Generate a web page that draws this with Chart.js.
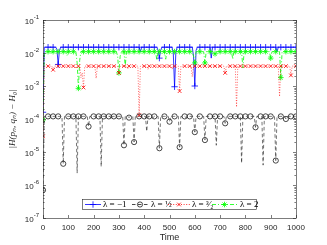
<!DOCTYPE html>
<html><head><meta charset="utf-8">
<script src="https://cdn.jsdelivr.net/npm/chart.js@4.4.0/dist/chart.umd.min.js"></script>
<style>html,body{margin:0;padding:0;background:#fff;}#wrap{width:327px;height:245px;position:relative;}</style>
</head><body><div id="wrap"><canvas id="c" width="327" height="245"></canvas></div>
<script>
const seriesLabels = ['λ = −1', 'λ = ½', 'λ = ³⁄₂', 'λ = 2'];
const xTickValues = [0, 100, 200, 300, 400, 500, 600, 700, 800, 900, 1000];
const yTickValues = [1e-7, 1e-6, 1e-5, 1e-4, 1e-3, 1e-2, 1e-1];
const yTickBase = '10';
const yTickExponents = ['-7', '-6', '-5', '-4', '-3', '-2', '-1'];
const timeStep = 5;

const lambdaMinus1 = [
1.6e-4,.015,.015,.015,.015,.015,.015,.015,.015,.015,
.015,.013,.0045,.012,.015,.015,.015,.015,.015,.015,
.015,.015,.015,.015,.015,.015,.015,.015,.015,.015,
.015,.015,.015,.015,.015,.015,.015,.015,.015,.015,
.015,.015,.015,.015,.015,.015,.015,.015,.015,.015,
.015,.015,.015,.015,.015,.015,.015,.015,.015,.015,
.015,.015,.015,.015,.015,.015,.015,.015,.015,.015,
.015,.015,.015,.015,.015,.015,.015,.011,.015,.015,
.015,.015,.015,.015,.015,.015,.015,.015,.015,.015,
.015,.012,.007,.012,.015,.015,.015,.015,.015,.015,
.015,.015,.015,.01,.00095,.01,.015,.015,.015,.015,
.015,.015,.015,.015,.015,.015,.015,.015,.015,.008,
.001,.012,.015,.015,.015,.015,.015,.015,.015,.015,
.015,.015,.015,.007,.015,.015,.015,.015,.015,.015,
.015,.015,.015,.015,.015,.015,.015,.015,.015,.015,
.015,.015,.015,.015,.015,.015,.015,.015,.015,.015,
.015,.015,.015,.015,.015,.015,.015,.015,.015,.015,
.015,.015,.015,.015,.015,.015,.015,.015,.015,.015,
.015,.015,.015,.015,.015,.011,.015,.015,.015,.015,
.015,.015,.015,.015,.015,.015,.015,.015,.015,.015,
.015];

const lambdaHalf = [
7e-7,1.2e-4,1.2e-4,1.1e-4,1.2e-4,1.2e-4,1.3e-4,1.2e-4,1.2e-4,1.2e-4,
1.2e-4,1.1e-4,1.2e-4,1.2e-4,1.2e-4,1.2e-4,4.4e-6,1.2e-4,1.2e-4,1.2e-4,
1.2e-4,1.2e-4,1.2e-4,1.1e-4,1.2e-4,1.2e-4,1.2e-4,2.3e-6,1.2e-4,1.2e-4,
1.2e-4,1.2e-4,1.2e-4,1.2e-4,1.2e-4,1.2e-4,5.9e-5,1.2e-4,1.2e-4,1.2e-4,
1.2e-4,1.2e-4,1.1e-4,1.2e-4,1.2e-4,1.2e-4,3.6e-6,1.2e-4,1.2e-4,1.2e-4,
1.2e-4,1.2e-4,1.2e-4,1.2e-4,1.0e-4,1.2e-4,1.2e-4,1.2e-4,1.2e-4,1.2e-4,
1.2e-4,1.2e-4,1.2e-4,1.2e-4,1.6e-5,1.2e-4,1.2e-4,1.2e-4,1.1e-4,1.2e-4,
1.2e-4,1.2e-4,2.0e-5,1.2e-4,1.2e-4,1.2e-4,1.2e-4,1.2e-4,1.2e-4,1.2e-4,
1.2e-4,1.2e-4,4.2e-5,1.2e-4,1.2e-4,1.2e-4,1.2e-4,1.1e-4,1.2e-4,1.2e-4,
1.2e-4,1.2e-4,1.3e-5,1.2e-4,1.2e-4,1.2e-4,1.2e-4,1.2e-4,1.2e-4,1.2e-4,
8.3e-5,1.2e-4,1.2e-4,1.2e-4,1.2e-4,1.2e-4,1.2e-4,1.2e-4,1.4e-5,1.2e-4,
1.2e-4,1.2e-4,1.2e-4,1.1e-4,1.2e-4,1.2e-4,1.2e-4,1.2e-4,1.2e-4,1.2e-4,
4.0e-5,1.2e-4,1.2e-4,1.2e-4,1.2e-4,1.2e-4,1.2e-4,1.2e-4,2.3e-5,1.2e-4,
1.2e-4,1.2e-4,1.2e-4,1.2e-4,1.2e-4,1.2e-4,1.2e-4,1.6e-5,1.2e-4,1.2e-4,
1.2e-4,1.2e-4,1.2e-4,1.2e-4,7.4e-5,1.2e-4,1.2e-4,1.2e-4,1.2e-4,1.2e-4,
1.2e-4,1.2e-4,1.2e-4,1.2e-4,1.2e-4,1.2e-4,1.2e-4,4.6e-6,1.2e-4,1.2e-4,
1.2e-4,1.2e-4,1.1e-4,1.2e-4,1.2e-4,1.2e-4,1.2e-4,1.2e-4,5.6e-5,1.2e-4,
1.2e-4,1.2e-4,1.2e-4,1.2e-4,4.0e-6,1.2e-4,1.2e-4,1.2e-4,1.2e-4,1.2e-4,
1.2e-4,1.2e-4,1.2e-4,1.2e-4,5.5e-6,1.2e-4,1.2e-4,1.2e-4,1.2e-4,1.2e-4,
1.2e-4,1.2e-4,1.0e-4,1.2e-4,1.2e-4,1.2e-4,1.2e-4,1.1e-4,1.2e-4,1.2e-4,
1.2e-4];

const lambdaThreeHalves = [
3e-5,.004,.004,.004,.004,.004,.004,.004,.0031,.004,
.004,.004,.004,.004,.004,.004,.004,.004,.004,.004,
.004,.004,.004,.004,.004,.004,.0034,.004,.004,.004,
.0018,.0025,.0009,.004,.004,.004,.004,.004,.004,.004,
.004,.004,.0017,.004,.004,.004,.004,.004,.004,.004,
.004,.004,.004,.004,.004,.004,.004,.004,.004,.004,
.0025,.004,.004,.004,.004,.004,.004,.0033,.004,.004,
.004,.004,.004,.004,.004,.004,.00013,.004,.004,.004,
.004,.004,.004,.0032,.004,.004,.004,.004,.004,.004,
.004,.004,.004,.004,.004,.004,.004,.004,.004,.004,
.004,.004,.0032,.004,.004,.004,.004,.004,.0007,.004,
.004,.004,.004,.004,.004,.004,.004,.004,.0019,.004,
.004,.004,.004,.004,.004,.004,.004,.004,.004,.004,
.004,.004,.004,.004,.004,.004,.004,.004,.004,.004,
.004,.004,.004,.004,.0025,.004,.004,.004,.004,.004,
.004,.004,.004,.00023,.004,.004,.004,.004,.004,.004,
.004,.004,.004,.004,.004,.004,.004,.004,.004,.004,
.004,.004,.004,.004,.004,.004,.004,.004,.004,.004,
.004,.004,.004,.004,.004,.004,.004,.00048,.004,.004,
.004,.004,.004,.004,.004,.004,.0021,.004,.004,.004,
.004];

const lambdaTwo = [
9.3e-5,.011,.011,.011,.011,.011,.011,.0095,.011,.011,
.011,.011,.011,.011,.011,.011,.011,.011,.011,.0085,
.011,.011,.011,.011,.011,.011,.011,.005,.00085,.006,
.011,.011,.011,.011,.011,.011,.011,.011,.011,.011,
.011,.011,.011,.011,.011,.011,.011,.011,.011,.011,
.011,.011,.011,.011,.011,.011,.011,.011,.011,.008,
.0025,.008,.011,.011,.011,.004,.011,.011,.011,.011,
.011,.011,.011,.011,.011,.011,.011,.011,.011,.011,
.011,.011,.011,.011,.011,.011,.011,.011,.011,.011,
.006,.011,.011,.011,.011,.011,.011,.0065,.011,.011,
.011,.011,.011,.011,.011,.011,.011,.011,.011,.011,
.011,.011,.011,.011,.011,.011,.011,.011,.011,.008,
.005,.011,.011,.011,.011,.011,.011,.011,.005,.011,
.011,.011,.011,.011,.011,.011,.0095,.011,.011,.011,
.011,.011,.011,.011,.011,.011,.011,.011,.011,.011,
.0065,.011,.011,.011,.011,.011,.011,.011,.0035,.011,
.011,.011,.011,.011,.011,.011,.011,.011,.011,.011,
.011,.011,.011,.011,.011,.011,.011,.011,.011,.011,
.007,.011,.011,.011,.011,.011,.011,.011,.0018,.011,
.011,.011,.011,.011,.011,.011,.011,.011,.011,.011,
.011];

const times = lambdaMinus1.map((_, i) => i * timeStep);
const toPoints = arr => arr.map((v, i) => ({x: times[i], y: v}));
const markerEvery = 4;
const mk = r => (c => (c.dataIndex % markerEvery === 0 ? r : 0));

const seriesStyles = [
  {color:'#0000ff', dash:[], width:0.8, style:'cross', r:3.2, fill:'rgba(0,0,0,0)'},
  {color:'#1a1a1a', dash:[3.5,2.5], width:0.6, style:'circle', r:2.6, fill:'rgba(0,0,0,0)'},
  {color:'#ff0000', dash:[1,1.6], width:0.6, style:'crossRot', r:2.6, fill:'rgba(0,0,0,0)'},
  {color:'#00ff00', dash:[4,2,1,2], width:0.8, style:'star', r:2.8, fill:'#00ff00'}
];
const seriesData = [lambdaMinus1, lambdaHalf, lambdaThreeHalves, lambdaTwo];

const datasets = seriesData.map((d, k) => ({
  label: seriesLabels[k],
  data: toPoints(d),
  borderColor: seriesStyles[k].color,
  backgroundColor: seriesStyles[k].fill,
  borderWidth: seriesStyles[k].width,
  borderDash: seriesStyles[k].dash,
  pointStyle: seriesStyles[k].style,
  pointRadius: mk(seriesStyles[k].r),
  pointBorderWidth: 0.8,
  pointBorderColor: seriesStyles[k].color,
  pointBackgroundColor: seriesStyles[k].fill,
  pointHoverRadius: 0,
  tension: 0,
  fill: false
}));
const ordered = [datasets[1], datasets[2], datasets[3], datasets[0]];

const frame = {
  id: 'frame',
  afterDatasetsDraw(chart) {
    const {ctx, chartArea: a, scales} = chart;
    ctx.save();
    ctx.strokeStyle = '#262626';
    ctx.lineWidth = 0.6;
    ctx.setLineDash([]);
    ctx.strokeRect(a.left + 0.5, a.top + 0.5, a.right - a.left, a.bottom - a.top);
    ctx.beginPath();
    xTickValues.forEach(v => {
      const x = Math.round(scales.x.getPixelForValue(v)) + 0.5;
      ctx.moveTo(x, a.bottom); ctx.lineTo(x, a.bottom - 3);
      ctx.moveTo(x, a.top); ctx.lineTo(x, a.top + 3);
    });
    yTickValues.forEach((v, i) => {
      const y = Math.round(scales.y.getPixelForValue(v)) + 0.5;
      ctx.moveTo(a.left, y); ctx.lineTo(a.left + 3, y);
      ctx.moveTo(a.right, y); ctx.lineTo(a.right - 3, y);
      if (i < yTickValues.length - 1) {
        for (let m = 2; m <= 9; m++) {
          const ym = Math.round(scales.y.getPixelForValue(v * m)) + 0.5;
          ctx.moveTo(a.left, ym); ctx.lineTo(a.left + 1.6, ym);
          ctx.moveTo(a.right, ym); ctx.lineTo(a.right - 1.6, ym);
        }
      }
    });
    ctx.stroke();
    // y tick labels: 10 with superscript exponent
    ctx.fillStyle = '#262626';
    ctx.textBaseline = 'alphabetic';
    ctx.textAlign = 'right';
    yTickValues.forEach((v, i) => {
      const y = scales.y.getPixelForValue(v);
      const right = a.left - 4;
      ctx.font = '6px "Liberation Sans"';
      const ew = ctx.measureText(yTickExponents[i]).width;
      ctx.fillText(yTickExponents[i], right, y - 1);
      ctx.font = '8px "Liberation Sans"';
      ctx.fillText(yTickBase, right - ew, y + 3.5);
    });
    ctx.restore();
  }
};

const legendBox = {
  id: 'legendBox',
  afterDraw(chart) {
    const ctx = chart.ctx;
    const box = {x: 82.5, y: 199.5, w: 174, h: 10};
    const entries = [
      {ds: 0, x0: 85, x1: 101, tx: 103},
      {ds: 1, x0: 132, x1: 148, tx: 151},
      {ds: 2, x0: 168, x1: 190, tx: 192},
      {ds: 3, x0: 212, x1: 237, tx: 240}
    ];
    ctx.save();
    ctx.fillStyle = '#ffffff';
    ctx.fillRect(box.x, box.y, box.w, box.h);
    ctx.strokeStyle = '#262626';
    ctx.lineWidth = 0.6;
    ctx.setLineDash([]);
    ctx.strokeRect(box.x, box.y, box.w, box.h);
    const cy = box.y + box.h / 2;
    entries.forEach(e => {
      const st = seriesStyles[e.ds];
      ctx.strokeStyle = st.color;
      ctx.lineWidth = 0.8;
      ctx.setLineDash(st.dash);
      ctx.beginPath(); ctx.moveTo(e.x0, cy); ctx.lineTo(e.x1, cy); ctx.stroke();
      ctx.setLineDash([]);
      ctx.fillStyle = st.fill;
      Chart.helpers.drawPoint(ctx, {pointStyle: st.style, radius: st.r, rotation: 0, borderWidth: 0.8}, (e.x0 + e.x1) / 2, cy);
      ctx.fillStyle = '#000';
      ctx.font = '9px "Liberation Serif"';
      ctx.textBaseline = 'middle';
      ctx.textAlign = 'left';
      ctx.fillText(seriesLabels[e.ds], e.tx, cy + 0.5);
    });
    ctx.restore();
  }
};

new Chart(document.getElementById('c'), {
  type: 'line',
  data: {datasets: ordered},
  options: {
    responsive: false,
    animation: false,
    devicePixelRatio: 1,
    layout: {padding: {top: 20, right: 31, left: 0, bottom: 0}},
    plugins: {legend: {display: false}, tooltip: {enabled: false}},
    scales: {
      x: {
        type: 'linear', min: 0, max: 1000,
        afterBuildTicks: s => { s.ticks = xTickValues.map(v => ({value: v})); },
        ticks: {font: {family: 'Liberation Sans', size: 8}, color: '#262626', maxRotation: 0, padding: 5, callback: v => String(v)},
        grid: {display: false, drawTicks: false}, border: {display: false},
        title: {display: true, text: 'Time', color: '#262626', font: {family: 'Liberation Sans', size: 9}, padding: {top: 0, bottom: 2}},
        afterFit: s => { s.height = 27; }
      },
      y: {
        type: 'logarithmic', min: 1e-7, max: 1e-1,
        afterBuildTicks: s => { s.ticks = yTickValues.map(v => ({value: v})); },
        ticks: {display: false},
        grid: {display: false, drawTicks: false}, border: {display: false},
        title: {display: true, text: '|H(pₙ, qₙ) − H₀|', color: '#262626', font: {family: 'Liberation Serif', size: 9, style: 'italic'}, padding: {top: 7, bottom: 0}},
        afterFit: s => { s.width = 43; }
      }
    }
  },
  plugins: [frame, legendBox]
});
</script></body></html>
